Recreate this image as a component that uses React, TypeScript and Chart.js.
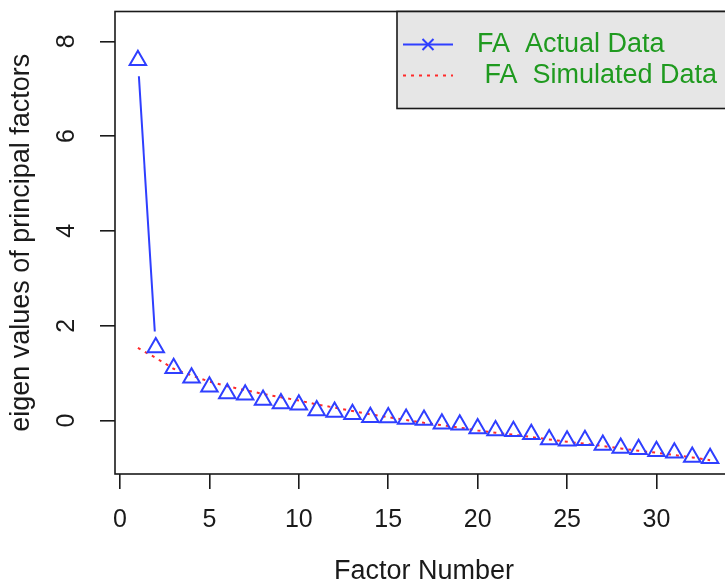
import React, { useEffect, useRef } from "react";
import { Chart, registerables } from "chart.js";

Chart.register(...registerables);

// ---------- data ----------
const factorNumbers = [
  1, 2, 3, 4, 5, 6, 7, 8, 9, 10, 11, 12, 13, 14, 15, 16, 17, 18, 19, 20, 21,
  22, 23, 24, 25, 26, 27, 28, 29, 30, 31, 32, 33,
];

const actualData = [
  7.6, 1.54, 1.1, 0.9, 0.71, 0.57, 0.54, 0.43, 0.36, 0.33, 0.21, 0.18, 0.13,
  0.07, 0.06, 0.03, 0.01, -0.07, -0.09, -0.17, -0.21, -0.23, -0.29, -0.4,
  -0.43, -0.42, -0.52, -0.58, -0.61, -0.65, -0.68, -0.77, -0.8,
];

const simulatedData = [
  1.53, 1.32, 1.09, 0.95, 0.82, 0.72, 0.64, 0.56, 0.49, 0.42, 0.34, 0.27,
  0.2, 0.13, 0.07, 0.01, -0.05, -0.1, -0.15, -0.21, -0.26, -0.3, -0.35,
  -0.4, -0.45, -0.49, -0.54, -0.59, -0.64, -0.68, -0.73, -0.78, -0.84,
];

const xTicks = [0, 5, 10, 15, 20, 25, 30];
const yTicks = [0, 2, 4, 6, 8];

const legendLabels = ["FA  Actual Data", " FA  Simulated Data"];
const xTitle = "Factor Number";
const yTitle = "eigen values of principal factors";

// ---------- styles ----------
const FONT = '"Liberation Sans", Arial, Helvetica, sans-serif';
const BLUE = "#2f3fff";
const RED = "#ff2a2a";
const GREEN = "#1f9a1f";
const INK = "#1a1a1a";

const boxPlugin = {
  id: "plotBox",
  afterDraw(chart: any) {
    const { ctx, chartArea: ca } = chart;
    ctx.save();
    ctx.strokeStyle = INK;
    ctx.lineWidth = 1.6;
    ctx.strokeRect(ca.left, ca.top, ca.right - ca.left, ca.bottom - ca.top);
    ctx.restore();
  },
};

// R "type = b" style: line segments with gaps around the points
const gappedLinePlugin = {
  id: "gappedLine",
  afterDatasetsDraw(chart: any) {
    const meta = chart.getDatasetMeta(0);
    const pts = meta.data;
    const gap = 16;
    const { ctx } = chart;
    ctx.save();
    ctx.strokeStyle = BLUE;
    ctx.lineWidth = 2;
    for (let i = 0; i < pts.length - 1; i++) {
      const a = pts[i];
      const b = pts[i + 1];
      const dx = b.x - a.x;
      const dy = b.y - a.y;
      const d = Math.hypot(dx, dy);
      if (d <= 2 * gap) continue;
      const ux = dx / d;
      const uy = dy / d;
      ctx.beginPath();
      ctx.moveTo(a.x + ux * gap, a.y + uy * gap);
      ctx.lineTo(b.x - ux * gap, b.y - uy * gap);
      ctx.stroke();
    }
    ctx.restore();
  },
};

const legendPlugin = {
  id: "rLegend",
  afterDraw(chart: any) {
    const { ctx, chartArea: ca } = chart;
    const w = 336;
    const h = 97;
    const left = ca.right - w;
    const top = ca.top;
    ctx.save();
    ctx.fillStyle = "#e6e6e6";
    ctx.fillRect(left, top, w, h);
    ctx.strokeStyle = INK;
    ctx.lineWidth = 1.6;
    ctx.strokeRect(left, top, w, h);

    const rows = [top + 33, top + 64];
    // row 1: blue line with x marker
    ctx.strokeStyle = BLUE;
    ctx.lineWidth = 2;
    ctx.beginPath();
    ctx.moveTo(left + 6, rows[0]);
    ctx.lineTo(left + 56, rows[0]);
    ctx.stroke();
    const cx = left + 31;
    const s = 5.5;
    ctx.beginPath();
    ctx.moveTo(cx - s, rows[0] - s);
    ctx.lineTo(cx + s, rows[0] + s);
    ctx.moveTo(cx - s, rows[0] + s);
    ctx.lineTo(cx + s, rows[0] - s);
    ctx.stroke();
    // row 2: red dotted line
    ctx.strokeStyle = RED;
    ctx.lineWidth = 2;
    ctx.setLineDash([3, 5]);
    ctx.beginPath();
    ctx.moveTo(left + 6, rows[1]);
    ctx.lineTo(left + 56, rows[1]);
    ctx.stroke();
    ctx.setLineDash([]);

    ctx.fillStyle = GREEN;
    ctx.font = `27px ${FONT}`;
    ctx.textBaseline = "middle";
    ctx.textAlign = "left";
    legendLabels.forEach((t, i) => ctx.fillText(t, left + 80, rows[i]));
    ctx.restore();
  },
};

export default function App() {
  const ref = useRef<HTMLCanvasElement | null>(null);

  useEffect(() => {
    if (!ref.current) return;
    const chart = new Chart(ref.current, {
      type: "line",
      data: {
        labels: factorNumbers,
        datasets: [
          {
            label: legendLabels[0],
            data: factorNumbers.map((x, i) => ({ x, y: actualData[i] })),
            showLine: false,
            borderColor: BLUE,
            backgroundColor: "rgba(0,0,0,0)",
            pointStyle: "triangle",
            pointRadius: 9.5,
            pointBorderWidth: 2,
            pointBorderColor: BLUE,
            pointBackgroundColor: "rgba(0,0,0,0)",
          },
          {
            label: legendLabels[1],
            data: factorNumbers.map((x, i) => ({ x, y: simulatedData[i] })),
            borderColor: RED,
            borderWidth: 2,
            borderDash: [3, 5],
            pointRadius: 0,
            fill: false,
            tension: 0,
          },
        ],
      },
      options: {
        animation: false,
        responsive: false,
        events: [],
        layout: { padding: { left: 0, top: 8, right: 12, bottom: 0 } },
        plugins: {
          legend: { display: false },
          tooltip: { enabled: false },
        },
        scales: {
          x: {
            type: "linear",
            min: -0.28,
            max: 34.28,
            afterBuildTicks: (scale: any) => {
              scale.ticks = xTicks.map((v) => ({ value: v }));
            },
            afterFit: (scale: any) => {
              scale.height = 110;
              scale.paddingLeft = 0;
              scale.paddingRight = 0;
            },
            border: { display: false },
            grid: {
              drawOnChartArea: false,
              drawTicks: true,
              tickLength: 15,
              color: INK,
              lineWidth: 1.6,
              tickWidth: 1.6,
            },
            ticks: {
              color: INK,
              font: { family: FONT, size: 25 },
              padding: 16,
              maxRotation: 0,
              autoSkip: false,
            },
            title: {
              display: true,
              text: xTitle,
              color: INK,
              font: { family: FONT, size: 27, lineHeight: 0.9 },
              padding: { top: 0, bottom: 0 },
            },
          },
          y: {
            type: "linear",
            min: -1.13,
            max: 8.63,
            afterBuildTicks: (scale: any) => {
              scale.ticks = yTicks.map((v) => ({ value: v }));
            },
            afterFit: (scale: any) => {
              scale.width = 115;
              scale.paddingTop = 0;
              scale.paddingBottom = 0;
            },
            border: { display: false },
            grid: {
              drawOnChartArea: false,
              drawTicks: true,
              tickLength: 15,
              color: INK,
              lineWidth: 1.6,
              tickWidth: 1.6,
            },
            ticks: {
              color: INK,
              font: { family: FONT, size: 25 },
              padding: 26,
              minRotation: 90,
              maxRotation: 90,
              crossAlign: "center",
              autoSkip: false,
            },
            title: {
              display: true,
              text: yTitle,
              color: INK,
              font: { family: FONT, size: 27, lineHeight: 1.2 },
              padding: { top: 5, bottom: 0 },
            },
          },
        },
      },
      plugins: [gappedLinePlugin, boxPlugin, legendPlugin],
    } as any);
    return () => chart.destroy();
  }, []);

  return (
    <div
      style={{
        position: "fixed",
        left: 0,
        top: 0,
        width: 725,
        height: 584,
        overflow: "hidden",
        background: "#ffffff",
      }}
    >
      <canvas
        ref={ref}
        width={745}
        height={584}
        style={{ width: 745, height: 584, display: "block" }}
      />
    </div>
  );
}
